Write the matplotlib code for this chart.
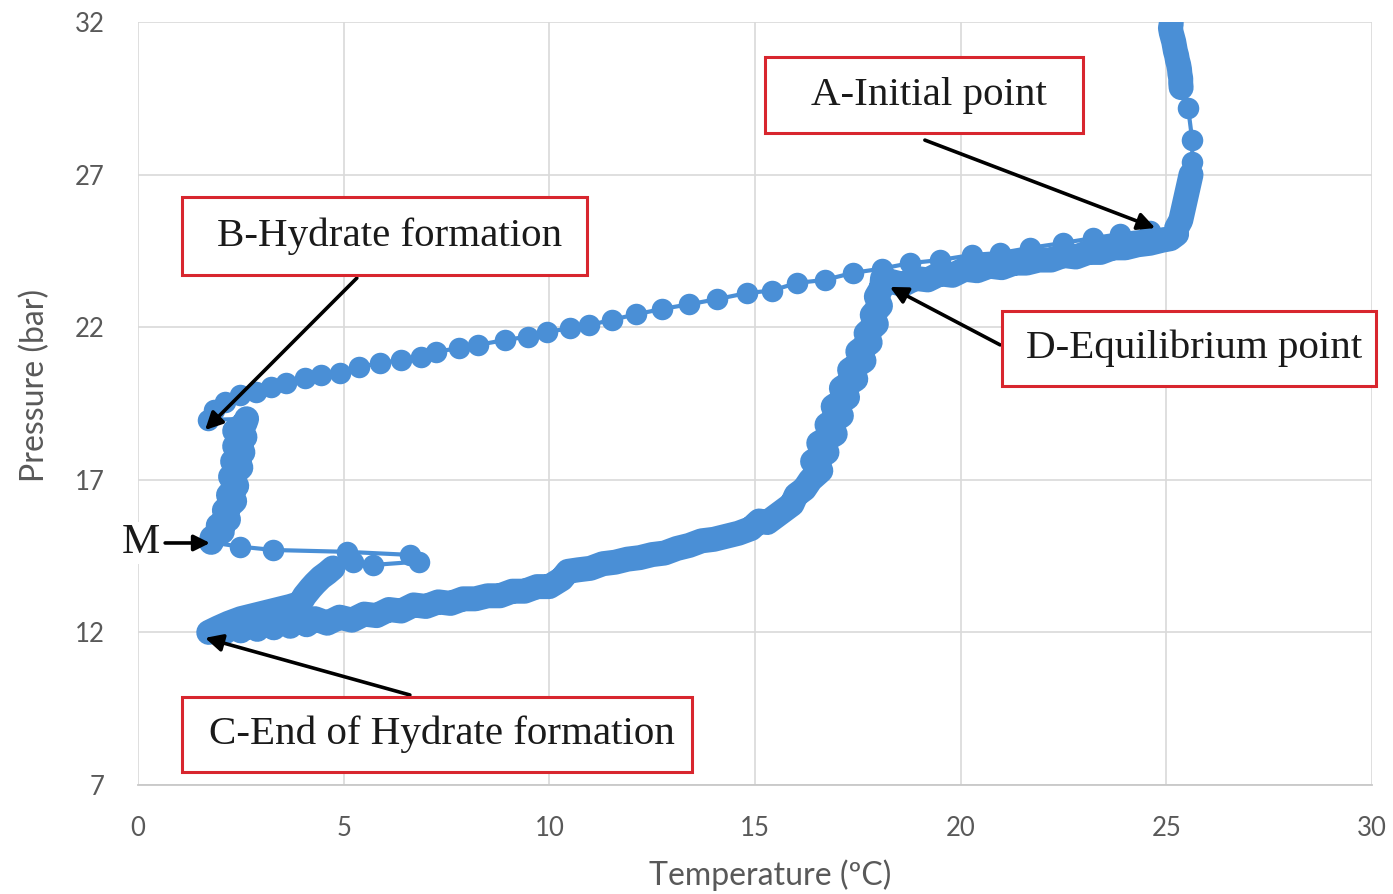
import matplotlib
matplotlib.use("Agg")
import matplotlib.pyplot as plt
from matplotlib.patches import Rectangle

# ---------------- data, (Temperature degC, Pressure bar) ----------------
top_pts = [(25.12, 31.95), (25.10, 31.80), (25.12, 31.65), (25.15, 31.50), (25.18, 31.35),
           (25.20, 31.20), (25.22, 31.05), (25.25, 30.90), (25.27, 30.75), (25.30, 30.60),
           (25.32, 30.45), (25.33, 30.30), (25.35, 30.15), (25.35, 30.00), (25.36, 29.85),
           (25.53, 29.18), (25.63, 28.13), (25.63, 27.40), (25.60, 27.00), (25.55, 26.70),
           (25.50, 26.40), (25.45, 26.10), (25.40, 25.80), (25.35, 25.50), (25.25, 25.25)]

cool_pts = [(24.60, 25.15), (23.88, 25.05), (23.22, 24.92), (22.49, 24.76), (21.69, 24.60),
            (20.96, 24.43), (20.28, 24.37), (19.50, 24.20), (18.77, 24.10), (18.09, 23.92),
            (17.38, 23.78), (16.70, 23.55), (16.02, 23.45), (15.41, 23.20), (14.81, 23.12),
            (14.08, 22.92), (13.40, 22.75), (12.75, 22.60), (12.10, 22.42), (11.52, 22.24),
            (10.97, 22.07), (10.50, 21.96), (9.94, 21.85), (9.48, 21.69), (8.92, 21.58),
            (8.27, 21.42), (7.80, 21.31), (7.25, 21.20), (6.87, 21.03), (6.39, 20.93),
            (5.88, 20.82), (5.37, 20.70), (4.91, 20.49), (4.45, 20.43), (4.07, 20.33),
            (3.60, 20.16), (3.23, 20.05), (2.86, 19.89), (2.49, 19.78), (2.11, 19.56),
            (1.84, 19.29), (1.70, 18.96)]

form_pts = [(2.64, 19.00), (2.60, 18.85), (2.35, 18.60), (2.60, 18.40), (2.35, 18.10),
            (2.55, 17.90), (2.30, 17.60), (2.50, 17.40), (2.25, 17.10), (2.40, 16.80),
            (2.20, 16.50), (2.35, 16.30), (2.10, 16.00), (2.20, 15.70), (1.95, 15.50),
            (2.05, 15.30), (1.80, 15.10), (1.78, 14.95)]

exc_pts = [(2.48, 14.81), (3.29, 14.70), (5.07, 14.64), (6.61, 14.54), (6.82, 14.32),
           (5.72, 14.21), (5.23, 14.32), (4.74, 14.11), (4.60, 13.95), (4.45, 13.80),
           (4.30, 13.60), (4.20, 13.45), (4.05, 13.20), (3.94, 12.95), (3.70, 12.85),
           (3.40, 12.75), (3.10, 12.65), (2.80, 12.55), (2.50, 12.45), (2.20, 12.30),
           (1.95, 12.15), (1.72, 12.00)]

heat_pts = [(1.90, 12.05), (2.10, 12.00), (2.30, 12.20), (2.50, 12.05), (2.70, 12.30),
            (2.90, 12.10), (3.10, 12.40), (3.30, 12.15), (3.50, 12.45), (3.70, 12.20),
            (3.90, 12.50), (4.10, 12.25), (4.30, 12.45), (4.60, 12.30), (4.90, 12.50),
            (5.20, 12.40), (5.50, 12.60), (5.80, 12.55), (6.10, 12.75), (6.40, 12.70),
            (6.70, 12.90), (7.00, 12.85), (7.30, 13.00), (7.60, 12.95), (7.90, 13.10),
            (8.20, 13.10), (8.50, 13.20), (8.80, 13.20), (9.10, 13.35), (9.40, 13.35),
            (9.70, 13.50), (10.00, 13.50), (10.30, 13.75), (10.45, 14.00), (10.70, 14.05),
            (11.00, 14.10), (11.30, 14.25), (11.60, 14.30), (11.90, 14.40), (12.20, 14.45),
            (12.50, 14.55), (12.80, 14.60), (13.10, 14.75), (13.40, 14.85), (13.70, 15.00),
            (14.00, 15.05), (14.30, 15.15), (14.60, 15.25), (14.90, 15.40), (15.10, 15.65),
            (15.30, 15.60), (15.50, 15.80), (15.70, 16.00), (15.90, 16.20), (16.00, 16.50),
            (16.20, 16.70), (16.35, 17.00), (16.60, 17.30), (16.40, 17.60), (16.75, 17.90),
            (16.55, 18.20), (16.95, 18.50), (16.75, 18.80), (17.10, 19.10), (16.90, 19.40),
            (17.25, 19.70), (17.10, 20.00), (17.45, 20.30), (17.30, 20.60), (17.65, 20.90),
            (17.50, 21.20), (17.80, 21.50), (17.70, 21.80), (17.95, 22.10), (17.85, 22.40),
            (18.05, 22.70), (17.95, 23.00), (18.08, 23.30), (18.10, 23.60), (18.30, 23.50),
            (18.60, 23.40), (18.90, 23.60), (19.20, 23.55), (19.50, 23.75), (19.80, 23.70),
            (20.10, 23.90), (20.40, 23.85), (20.70, 24.00), (21.00, 23.95), (21.30, 24.10),
            (21.60, 24.10), (21.90, 24.20), (22.20, 24.20), (22.50, 24.35), (22.80, 24.30),
            (23.10, 24.45), (23.40, 24.45), (23.70, 24.60), (24.00, 24.60), (24.30, 24.70),
            (24.60, 24.75), (24.90, 24.85), (25.10, 24.90), (25.25, 25.05)]

x_ticks = [0, 5, 10, 15, 20, 25, 30]
y_ticks = [7, 12, 17, 22, 27, 32]

labels = ["A-Initial point", "B-Hydrate formation", "C-End of Hydrate formation",
          "D-Equilibrium point"]
# (box x0, box x1, box y0, box y1) in data units, arrow tail, arrow head
boxes = [(15.24, 22.98, 28.36, 30.85), (1.07, 10.92, 23.71, 26.27),
         (1.07, 13.47, 7.43, 9.88), (21.0, 30.1, 20.07, 22.53)]
arrow_tails = [(19.13, 28.13), (5.32, 23.61), (6.61, 9.95), (20.96, 21.42)]
arrow_heads = [(24.73, 25.25), (1.63, 18.63), (1.63, 11.82), (18.28, 23.32)]

# ---------------- figure ----------------
W, H, DPI = 1393, 894, 100
fig = plt.figure(figsize=(W / DPI, H / DPI), dpi=DPI)
ax = fig.add_axes([138 / W, 1 - 785 / H, (1372 - 138) / W, (785 - 22) / H])

blue = "#4A8FD6"
path = top_pts + cool_pts + form_pts + exc_pts + heat_pts
ax.plot([p[0] for p in path], [p[1] for p in path], color=blue, lw=3.0, marker="o",
        markersize=15.5, markeredgewidth=0, zorder=3, solid_capstyle="round")

# densely sampled stretches render as a continuous thick band
dense = [top_pts[:15], form_pts, exc_pts[7:], heat_pts, top_pts[18:]]
for seg in dense:
    ax.plot([p[0] for p in seg], [p[1] for p in seg], color=blue, lw=18,
            solid_joinstyle="round", solid_capstyle="round", zorder=3)

ax.set_xlim(0, 30)
ax.set_ylim(7, 32)
ax.set_xticks(x_ticks)
ax.set_yticks(y_ticks)
ax.grid(True, color="#d9d9d9", lw=1.2, zorder=0)
ax.set_axisbelow(True)
for s in ["top", "right", "left"]:
    ax.spines[s].set_visible(False)
ax.spines["bottom"].set_color("#c8c8c8")
ax.spines["bottom"].set_linewidth(1.3)
ax.tick_params(length=0, labelsize=18.5, labelcolor="#595959")
ax.tick_params(axis="y", pad=24)
ax.tick_params(axis="x", pad=22)
for lab in ax.get_xticklabels() + ax.get_yticklabels():
    lab.set_family("Lato")

fig.text(770 / W, 1 - 875 / H, "Temperature (ºC)", ha="center", va="center",
         fontsize=23, color="#595959", family="Lato")
fig.text(35 / W, 1 - 385 / H, "Pressure (bar)", ha="center", va="center",
         fontsize=23, color="#595959", family="Lato", rotation=90)

serif = ["Liberation Serif", "DejaVu Serif"]
for lab, (x0, x1, y0, y1), tail, head in zip(labels, boxes, arrow_tails, arrow_heads):
    ax.annotate("", xy=head, xytext=tail,
                arrowprops=dict(arrowstyle="-|>", color="black", lw=2.6,
                                mutation_scale=26, shrinkA=0, shrinkB=0),
                zorder=5, annotation_clip=False)
    ax.add_patch(Rectangle((x0, y0), x1 - x0, y1 - y0, facecolor="white",
                           edgecolor="#D8262E", lw=2.2, zorder=6, clip_on=False))
    ax.text((x0 + x1) / 2 + 0.12, (y0 + y1) / 2, lab, ha="center", va="center",
            fontsize=29.5, family=serif, color="#1a1a1a", zorder=7, clip_on=False)

ax.annotate("", xy=(1.75, 14.93), xytext=(0.66, 14.93),
            arrowprops=dict(arrowstyle="-|>", color="black", lw=2.6,
                            mutation_scale=24, shrinkA=0, shrinkB=0),
            zorder=5, annotation_clip=False)
ax.text(0.06, 14.93, "M", ha="center", va="center", fontsize=31, family=serif,
        color="#1a1a1a", zorder=7, clip_on=False,
        bbox=dict(facecolor="white", edgecolor="none", pad=1))

fig.savefig("out.png", dpi=DPI)
